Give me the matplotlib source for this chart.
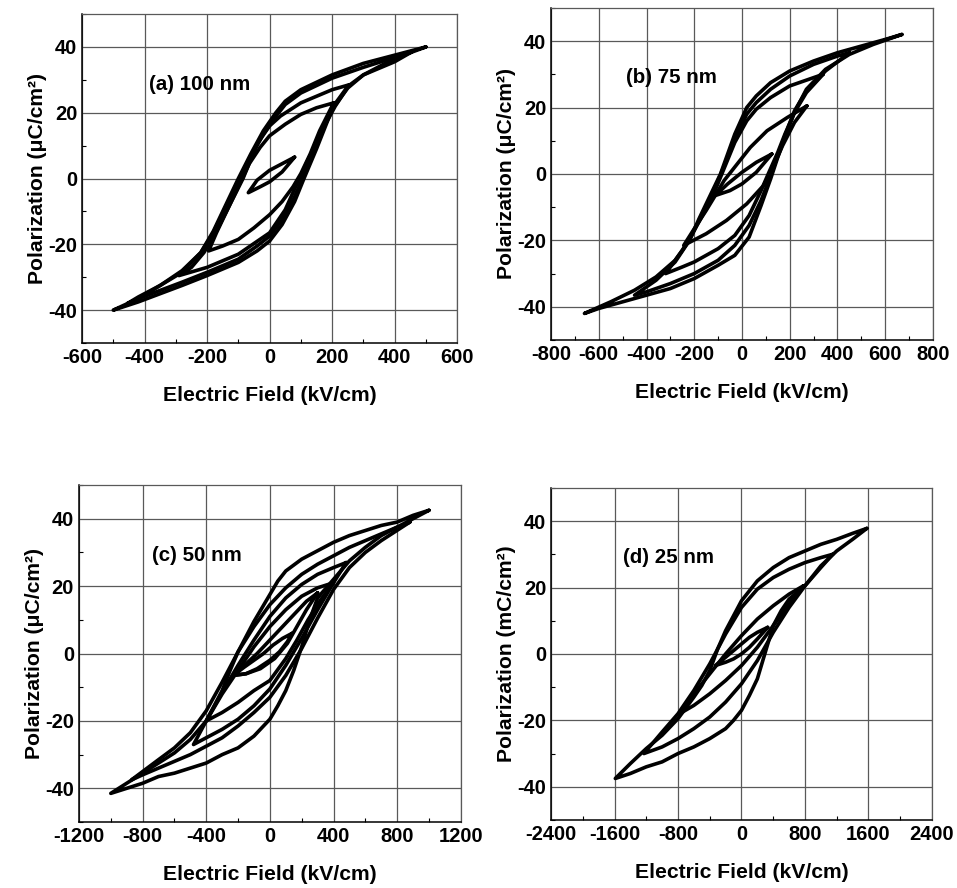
import matplotlib
matplotlib.use("Agg")
import matplotlib.pyplot as plt
from matplotlib.ticker import MultipleLocator

plt.rcParams["font.family"] = ["Liberation Sans", "DejaVu Sans"]
plt.rcParams["font.weight"] = "bold"
plt.rcParams["axes.labelweight"] = "bold"
plt.rcParams["axes.unicode_minus"] = False

# Each loop is a closed path: falling-field branch, then rising-field branch.
# ---- (a) 100 nm ----
a1_e = [80, 40, 0, -40, -68, -30, 0, 40, 80]
a1_p = [6.5, 4.5, 2.5, -0.5, -4.3, -2.5, -1, 2, 6.5]
a2_e = [205, 150, 100, 50, 0, -30, -65, -90, -110, -140, -170, -195,
        -150, -100, -50, 0, 40, 75, 100, 130, 160, 205]
a2_p = [23, 21.5, 19.5, 16.5, 13, 9.5, 4.5, -0.5, -4.5, -10.5, -16.5, -22,
        -20.5, -18.5, -15, -11, -7, -2.5, 1.5, 7.5, 14.5, 23]
a3_e = [255, 200, 100, 35, 0, -40, -85, -130, -170, -210, -250, -290,
        -200, -100, 0, 50, 95, 130, 170, 210, 255]
a3_p = [28.5, 27, 23, 19, 16, 10.5, 0, -8.5, -16, -22.5, -27, -29.5,
        -27, -23, -16.5, -9.5, 0, 7, 15, 22, 28.5]
a4_e = [455, 400, 300, 200, 100, 50, 25, -20, -60, -95, -140, -180, -220, -280, -350, -420, -455,
        -420, -350, -280, -200, -100, -40, 0, 40, 80, 105, 150, 200, 250, 300, 400, 455]
a4_p = [38.5, 36.8, 33.8, 30.5, 26, 22.5, 19.5, 13.5, 6.5, 0, -8.5, -16.5, -22.5, -28, -32.5, -36, -38,
        -36.5, -34, -31.5, -28.5, -24.5, -20.5, -17.5, -12.5, -5.5, 0, 10, 21.5, 28, 31.5, 35.5, 38.5]
a5_e = [500, 400, 300, 200, 100, 50, 20, -20, -60, -100, -140, -180, -220, -280, -350, -420, -500,
        -420, -350, -280, -200, -100, -40, 0, 40, 80, 110, 150, 200, 250, 300, 400, 500]
a5_p = [40, 37.5, 35, 31.5, 27, 23.5, 20, 14.5, 7.5, 0, -8, -16, -22.5, -28.5, -32.5, -36.5, -40,
        -37.5, -35, -32.5, -29.5, -25.5, -22, -19, -14, -7, 0, 9, 21, 27.5, 31.5, 36.5, 40]

# ---- (b) 75 nm ----
b1_e = [125, 60, 0, -60, -112, -50, 0, 60, 125]
b1_p = [6, 3.5, 0.5, -3, -6.5, -5, -3, 0.5, 6]
b2_e = [272, 190, 105, 35, -20, -75, -112, -150, -200, -244,
        -150, -65, 20, 90, 130, 170, 220, 272]
b2_p = [20.5, 17, 13, 8, 3, -2, -6.5, -11, -16.5, -21.5,
        -18, -14, -9, -3.5, 2, 8.5, 15.5, 20.5]
b3_e = [340, 300, 200, 120, 60, 20, -30, -70, -110, -150, -200, -250, -320,
        -250, -200, -100, -30, 30, 80, 110, 150, 180, 220, 270, 340]
b3_p = [30, 29, 26.5, 23, 19.5, 16, 9.5, 2.5, -4.5, -10.5, -17, -23, -30,
        -28, -26.5, -22.5, -18.5, -12.5, -5, 0, 6.5, 12, 18.5, 24.5, 30]
b4_e = [450, 400, 300, 200, 120, 60, 20, -30, -80, -130, -180, -220, -280, -360, -450,
        -400, -300, -200, -100, -30, 30, 80, 115, 150, 180, 220, 270, 350, 450]
b4_p = [36.5, 35.5, 33, 29.5, 25.5, 21.5, 18, 10.5, 1.5, -7, -14, -20, -26.5, -32, -36.5,
        -35.5, -33, -30, -26, -21.5, -15.5, -8, -1.5, 5.5, 11.5, 19, 25, 31, 36.5]
b5_e = [670, 600, 500, 400, 300, 200, 120, 60, 20, -30, -90, -140, -180, -220, -280, -360, -450, -550, -660,
        -600, -500, -400, -300, -200, -100, -30, 30, 80, 120, 150, 180, 220, 270, 350, 450, 550, 670]
b5_p = [42, 40.5, 38.5, 36.5, 34, 31, 27.5, 23.5, 20, 12, 0, -7.5, -13.5, -20, -26, -31, -35, -38.5, -42,
        -40.5, -38.5, -36.5, -34.5, -31.5, -27.5, -24.5, -19, -9.5, -1.5, 5, 11, 18.5, 25.5, 31.5, 36, 39, 42]

# ---- (c) 50 nm ----
c1_e = [140, 80, 20, -40, -100, -160, -230, -150, -80, 0, 60, 110, 140]
c1_p = [6, 4.5, 2.5, 0, -2, -4, -6.5, -6, -4.5, -2, 0.5, 3.5, 6]
c2_e = [300, 230, 160, 80, 0, -80, -160, -230, -150, -60, 30, 110, 170, 230, 300]
c2_p = [18, 15.5, 12, 8, 4, 0, -3.5, -6.5, -6, -4.5, -1.5, 3, 8, 13, 18]
c3_e = [400, 300, 200, 100, 0, -100, -200, -300, -400,
        -300, -200, -100, 0, 100, 170, 240, 320, 400]
c3_p = [21, 19.5, 17, 13, 8, 2, -5, -12, -20,
        -17.5, -14.5, -11, -8, -1.5, 4, 10, 16, 21]
c4_e = [480, 400, 300, 200, 100, 0, -100, -200, -300, -400, -480,
        -400, -300, -200, -100, 0, 100, 200, 300, 400, 480]
c4_p = [27, 25.5, 23.5, 20.5, 16.5, 11, 4, -3.5, -11.5, -20, -27,
        -25, -22.5, -19.5, -15.5, -10.5, -3.5, 4.5, 13, 21, 27]
c5_e = [880, 800, 700, 600, 500, 400, 300, 200, 100, 0, -100, -200, -300, -400, -500, -600, -700, -870,
        -800, -700, -600, -500, -400, -300, -200, -100, 0, 100, 200, 300, 400, 500, 600, 700, 880]
c5_p = [39, 37.5, 35.5, 33.5, 31.5, 29, 26.5, 23.5, 19.5, 14.5, 8, 0.5, -8.5, -17, -23.5, -28, -31.5, -37.5,
        -36, -34, -32, -30, -27.5, -25, -21.5, -17.5, -13, -6.5, 1.5, 10.5, 19, 25.5, 30, 33.5, 39]
c6_e = [1000, 900, 800, 700, 600, 500, 400, 300, 200, 100, 50, 0, -50, -100, -150, -200, -250, -300,
        -400, -500, -600, -700, -800, -900, -1000,
        -900, -800, -700, -600, -500, -400, -300, -200, -100, 0, 50, 100, 150, 200, 250, 300, 400,
        500, 600, 700, 800, 900, 1000]
c6_p = [42.5, 41, 39, 38, 36.5, 35, 33, 30.5, 28, 24.5, 21.5, 17.5, 13.5, 9.5, 5, 0.5, -5, -11,
        -20, -25.5, -29.5, -32.5, -35.5, -38.5, -41.5,
        -40, -38.5, -36.5, -35.5, -34, -32.5, -30, -28, -24.5, -19.5, -15.5, -11, -5, 2, 10, 16.5, 22,
        27.5, 31.5, 35, 37.5, 40, 42.5]

# ---- (d) 25 nm ----
d1_e = [330, 200, 100, 0, -100, -200, -330, -200, -100, 0, 100, 200, 330]
d1_p = [8, 6.5, 5, 3, 1, -1, -3.5, -2.5, -1.5, 0, 2, 4.5, 8]
d2_e = [780, 600, 400, 200, 0, -200, -400, -600, -780,
        -600, -400, -200, 0, 200, 400, 600, 780]
d2_p = [20.5, 18, 14.5, 10.5, 5.5, 0, -6, -12, -18,
        -15.5, -12, -8, -3.5, 2, 8.5, 15, 20.5]
d3_e = [1150, 1000, 800, 600, 400, 200, 0, -200, -400, -600, -800, -1000, -1230,
        -1000, -800, -600, -400, -200, 0, 200, 400, 600, 800, 1000, 1150]
d3_p = [30, 29, 27.5, 25.5, 23, 19.5, 14, 6, -3, -11, -18, -23.5, -30,
        -28, -25.5, -22.5, -19, -14.5, -9, -2, 6.5, 14, 20.5, 26, 30]
d4_e = [1580, 1400, 1200, 1000, 800, 600, 400, 200, 0, -200, -300, -400, -500, -600, -800, -1000, -1200, -1400, -1590,
        -1400, -1200, -1000, -800, -600, -400, -200, -100, 0, 100, 200, 300, 400, 500, 600, 800, 1000, 1200, 1400, 1580]
d4_p = [37.8, 36.3, 34.5, 33, 31, 29, 26, 22, 16, 7, 1.5, -5, -9.5, -13, -19.5, -24.5, -28.5, -33, -37.5,
        -36, -34, -32.5, -30, -28, -25.5, -22.5, -20, -17, -12.5, -7.5, 0.5, 8.5, 13, 16.5, 20.5, 26.5, 31, 34.5, 37.8]

labels = ["(a) 100 nm", "(b) 75 nm", "(c) 50 nm", "(d) 25 nm"]
label_pos = [(-385, 28.5), (-485, 29), (-740, 29), (-1490, 29)]
x_limits = [600, 800, 1200, 2400]
x_steps = [200, 200, 400, 800]
y_titles = ["Polarization (μC/cm²)", "Polarization (μC/cm²)",
            "Polarization (μC/cm²)", "Polarization (mC/cm²)"]
loops = [
    [(a1_e, a1_p), (a2_e, a2_p), (a3_e, a3_p), (a4_e, a4_p), (a5_e, a5_p)],
    [(b1_e, b1_p), (b2_e, b2_p), (b3_e, b3_p), (b4_e, b4_p), (b5_e, b5_p)],
    [(c1_e, c1_p), (c2_e, c2_p), (c3_e, c3_p), (c4_e, c4_p), (c5_e, c5_p), (c6_e, c6_p)],
    [(d1_e, d1_p), (d2_e, d2_p), (d3_e, d3_p), (d4_e, d4_p)],
]

rects = [
    [0.0857, 0.6137, 0.3920, 0.3705],
    [0.5758, 0.6171, 0.3990, 0.3740],
    [0.0825, 0.0743, 0.3990, 0.3795],
    [0.5758, 0.0766, 0.3980, 0.3740],
]

fig = plt.figure(figsize=(9.57, 8.88), dpi=100)

for i in range(4):
    ax = fig.add_axes(rects[i])
    xl = x_limits[i]
    for e, p in loops[i]:
        ax.plot(e, p, color="black", linewidth=2.6, solid_joinstyle="round",
                solid_capstyle="round")
    ax.set_xlim(-xl, xl)
    ax.set_ylim(-50, 50)
    ax.xaxis.set_major_locator(MultipleLocator(x_steps[i]))
    ax.xaxis.set_minor_locator(MultipleLocator(x_steps[i] / 2))
    ax.yaxis.set_major_locator(MultipleLocator(20))
    ax.yaxis.set_minor_locator(MultipleLocator(10))
    ax.grid(True, which="major", color="0.35", linewidth=0.9)
    ax.set_axisbelow(True)
    ax.tick_params(which="both", direction="in", top=False, right=False,
                   labelsize=14.5, pad=3.5)
    ax.tick_params(which="major", length=0)
    ax.tick_params(which="minor", length=3, width=0.8)
    for side in ["left", "bottom"]:
        ax.spines[side].set_linewidth(1.1)
    for side in ["top", "right"]:
        ax.spines[side].set_linewidth(0.9)
        ax.spines[side].set_color("0.35")
    ax.set_xlabel("Electric Field (kV/cm)", fontsize=15.2, labelpad=14)
    ax.set_ylabel(y_titles[i], fontsize=15.2, labelpad=1)
    ax.text(label_pos[i][0], label_pos[i][1], labels[i], fontsize=14.8,
            fontweight="bold", ha="left", va="center")

fig.savefig("out.png", dpi=100)
